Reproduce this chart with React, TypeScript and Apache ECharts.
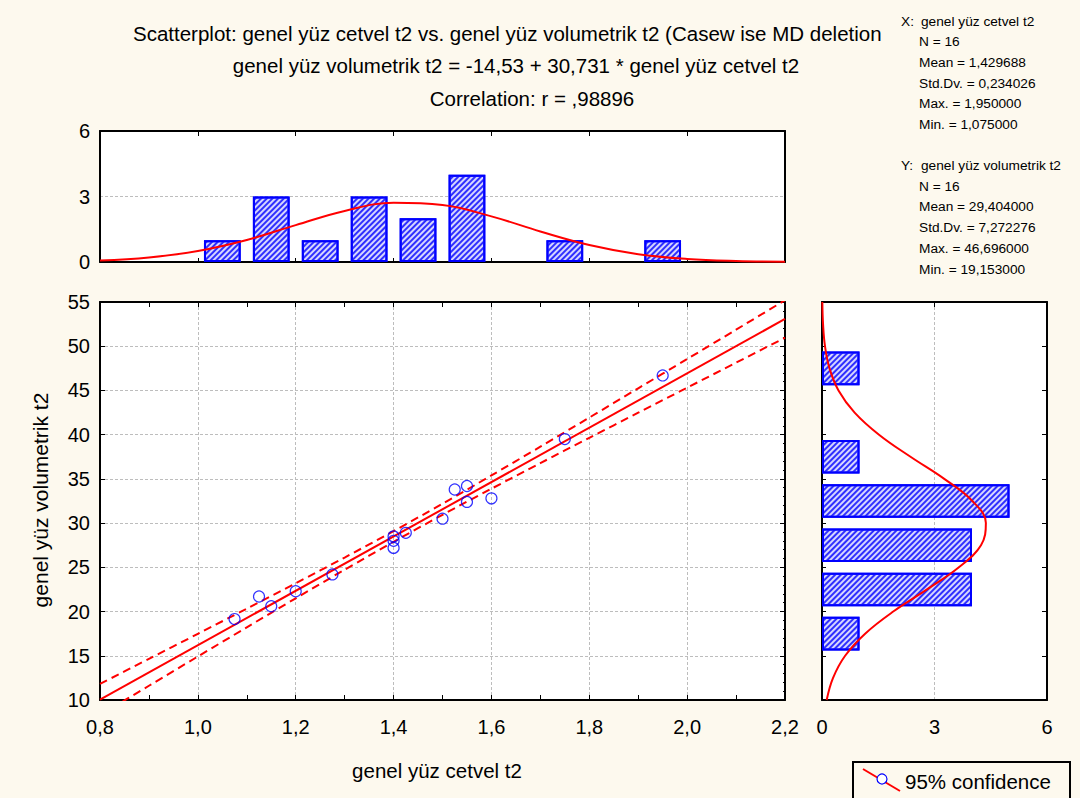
import React, { useEffect, useRef } from 'react';
import * as echarts from 'echarts';

const FONT = '"Liberation Sans", Arial, Helvetica, sans-serif';
const BG = '#fdf9ee';

// ---- data ----
const xValues = [1.075, 1.125, 1.15, 1.2, 1.275, 1.4, 1.4, 1.4, 1.425, 1.5, 1.525, 1.55, 1.55, 1.6, 1.75, 1.95];
const yValues = [19.153, 21.7, 20.6, 22.3, 24.2, 28.5, 28.0, 27.2, 28.9, 30.5, 33.8, 34.2, 32.4, 32.8, 39.5, 46.696];

const topBinLabels = ['0,8-0,9', '0,9-1,0', '1,0-1,1', '1,1-1,2', '1,2-1,3', '1,3-1,4', '1,4-1,5', '1,5-1,6', '1,6-1,7', '1,7-1,8', '1,8-1,9', '1,9-2,0', '2,0-2,1', '2,1-2,2'];
const topBinCounts = [0, 0, 1, 3, 1, 3, 2, 4, 0, 1, 0, 1, 0, 0];

const rightBinLabels = ['10-15', '15-20', '20-25', '25-30', '30-35', '35-40', '40-45', '45-50', '50-55'];
const rightBinCounts = [0, 1, 4, 4, 5, 1, 0, 1, 0];

const topCurveX = [0.8, 0.9, 1.0, 1.1, 1.2, 1.3, 1.4, 1.5, 1.6, 1.7, 1.8, 1.9, 2.0, 2.1, 2.2];
const topCurveY = [0.073, 0.21, 0.505, 1.01, 1.69, 2.34, 2.71, 2.61, 2.09, 1.4, 0.78, 0.36, 0.14, 0.045, 0.012];

const rightCurveY = [10, 12.5, 15, 17.5, 20, 22.5, 25, 27.5, 30, 32.5, 35, 37.5, 40, 42.5, 45, 47.5, 50, 52.5, 55];
const rightCurveX = [0.125, 0.295, 0.617, 1.15, 1.9, 2.8, 3.65, 4.24, 4.37, 4.01, 3.26, 2.36, 1.52, 0.87, 0.44, 0.2, 0.08, 0.028, 0.009];

const fitX = [0.8, 2.2];
const fitY = [10.05, 53.08];

const bandX = [0.8, 0.9, 1.0, 1.1, 1.2, 1.3, 1.4, 1.5, 1.6, 1.7, 1.8, 1.9, 2.0, 2.1, 2.2];
const bandUpper = [11.82, 14.65, 17.48, 20.33, 23.2, 26.11, 29.1, 32.19, 35.39, 38.64, 41.93, 45.24, 48.55, 51.87, 55.2];
const bandLower = [8.29, 11.61, 14.92, 18.22, 21.5, 24.73, 27.89, 30.94, 33.89, 36.78, 39.64, 42.48, 45.31, 48.14, 50.96];

const titleLines = [
  'Scatterplot: genel yüz cetvel t2 vs. genel yüz volumetrik t2 (Casew ise MD deletion',
  'genel yüz volumetrik t2 = -14,53 + 30,731 * genel yüz cetvel t2',
  'Correlation: r = ,98896',
];
const statsXHead = ['X:', 'genel yüz cetvel t2'];
const statsXLines = ['N = 16', 'Mean = 1,429688', 'Std.Dv. = 0,234026', 'Max. = 1,950000', 'Min. = 1,075000'];
const statsYHead = ['Y:', 'genel yüz volumetrik t2'];
const statsYLines = ['N = 16', 'Mean = 29,404000', 'Std.Dv. = 7,272276', 'Max. = 46,696000', 'Min. = 19,153000'];
const xAxisTitle = 'genel yüz cetvel t2';
const yAxisTitle = 'genel yüz volumetrik t2';
const legendText = '95% confidence';

// ---- styles ----
const axisLineStyle = { show: true, onZero: false, lineStyle: { color: '#000', width: 2 } };
const gridLineStyle = { show: true, lineStyle: { color: '#bdbdbd', width: 1, type: [3, 2] as any } };
const tickLabel = { color: '#000', fontSize: 20, fontFamily: FONT };
const commaFmt = (v: number) => v.toFixed(1).replace('.', ',');

const barItemStyle = {
  color: '#d6d6ff',
  borderColor: '#0000ff',
  borderWidth: 2,
  decal: {
    symbol: 'rect',
    symbolSize: 1,
    color: '#2f2fff',
    dashArrayX: [1, 0],
    dashArrayY: [2, 2],
    rotation: -Math.PI / 4,
  },
};

function txt(x: number, y: number, text: string, size: number, align = 'left', rotation = 0) {
  return {
    type: 'text',
    x,
    y,
    rotation,
    silent: true,
    style: {
      text,
      font: `${size}px ${FONT}`,
      fill: '#000',
      textAlign: align,
      textVerticalAlign: 'middle',
      align,
      verticalAlign: 'middle',
    },
  };
}

function buildGraphics() {
  const g: any[] = [];
  g.push(txt(133, 33, titleLines[0], 20.5));
  g.push(txt(516, 65, titleLines[1], 20.5, 'center'));
  g.push(txt(532, 98, titleLines[2], 20.5, 'center'));
  const step = 20.7;
  const fs = 13.7;
  g.push(txt(901, 21, statsXHead[0], fs));
  g.push(txt(921, 21, statsXHead[1], fs));
  statsXLines.forEach((t, i) => g.push(txt(919, 21 + step * (i + 1), t, fs)));
  g.push(txt(901, 165.5, statsYHead[0], fs));
  g.push(txt(921, 165.5, statsYHead[1], fs));
  statsYLines.forEach((t, i) => g.push(txt(919, 165.5 + step * (i + 1), t, fs)));
  g.push(txt(437, 770, xAxisTitle, 20.5, 'center'));
  g.push(txt(40, 500, yAxisTitle, 21, 'center', Math.PI / 2));
  // legend box
  g.push({ type: 'rect', shape: { x: 853, y: 762, width: 217, height: 44 }, style: { fill: BG, stroke: '#000', lineWidth: 2 }, silent: true });
  g.push({ type: 'line', shape: { x1: 863, y1: 769, x2: 900, y2: 791 }, style: { stroke: '#ff0000', lineWidth: 2 }, silent: true });
  g.push({ type: 'circle', shape: { cx: 882, cy: 779, r: 5 }, style: { fill: '#fff', stroke: '#0000ff', lineWidth: 1.2 }, silent: true, z: 10 });
  g.push(txt(905, 781, legendText, 20.5));
  return g;
}

const option: any = {
  animation: false,
  backgroundColor: BG,
  aria: { enabled: true, decal: { show: true } },
  graphic: buildGraphics(),
  grid: [
    { left: 100, top: 131, width: 685, height: 131, show: true, backgroundColor: '#fff', borderWidth: 0, containLabel: false },
    { left: 100, top: 302, width: 685, height: 398, show: true, backgroundColor: '#fff', borderWidth: 0, containLabel: false },
    { left: 822, top: 302, width: 225, height: 398, show: true, backgroundColor: '#fff', borderWidth: 0, containLabel: false },
  ],
  xAxis: [
    {
      type: 'category', gridIndex: 0, data: topBinLabels, position: 'bottom',
      axisLine: axisLineStyle, axisLabel: { show: false },
      axisTick: { show: true, inside: true, length: 4, interval: 1, lineStyle: { color: '#000' } },
      splitLine: { show: false },
    },
    {
      type: 'value', gridIndex: 0, min: 0.8, max: 2.2, interval: 0.2, position: 'top',
      axisLine: axisLineStyle, axisLabel: { show: false },
      axisTick: { show: true, inside: true, length: 5, lineStyle: { color: '#000' } },
      splitLine: { show: false },
    },
    {
      type: 'value', gridIndex: 1, min: 0.8, max: 2.2, interval: 0.2, position: 'bottom',
      axisLine: axisLineStyle,
      axisLabel: { ...tickLabel, margin: 17, formatter: commaFmt },
      axisTick: { show: true, inside: true, length: 5, lineStyle: { color: '#000' } },
      minorTick: { show: true, splitNumber: 2, length: 5, lineStyle: { color: '#000' } },
      splitLine: gridLineStyle,
    },
    {
      type: 'value', gridIndex: 1, min: 0.8, max: 2.2, interval: 0.1, position: 'top',
      axisLine: axisLineStyle, axisLabel: { show: false },
      axisTick: { show: true, inside: true, length: 5, lineStyle: { color: '#000' } },
      splitLine: { show: false },
    },
    {
      type: 'value', gridIndex: 2, min: 0, max: 6, interval: 3, position: 'bottom',
      axisLine: axisLineStyle,
      axisLabel: { ...tickLabel, margin: 17 },
      axisTick: { show: false },
      splitLine: gridLineStyle,
    },
    {
      type: 'value', gridIndex: 2, min: 0, max: 6, interval: 3, position: 'top',
      axisLine: axisLineStyle, axisLabel: { show: false },
      axisTick: { show: true, inside: true, length: 5, lineStyle: { color: '#000' } },
      splitLine: { show: false },
    },
  ],
  yAxis: [
    {
      type: 'value', gridIndex: 0, min: 0, max: 6, interval: 3, position: 'left',
      axisLine: axisLineStyle,
      axisLabel: { ...tickLabel, margin: 10 },
      axisTick: { show: false },
      splitLine: gridLineStyle,
    },
    {
      type: 'value', gridIndex: 0, min: 0, max: 6, interval: 3, position: 'right',
      axisLine: axisLineStyle, axisLabel: { show: false }, axisTick: { show: false }, splitLine: { show: false },
    },
    {
      type: 'value', gridIndex: 1, min: 10, max: 55, interval: 5, position: 'left',
      axisLine: axisLineStyle,
      axisLabel: { ...tickLabel, margin: 10 },
      axisTick: { show: true, inside: true, length: 5, lineStyle: { color: '#000' } },
      splitLine: gridLineStyle,
    },
    {
      type: 'value', gridIndex: 1, min: 10, max: 55, interval: 5, position: 'right',
      axisLine: axisLineStyle, axisLabel: { show: false },
      axisTick: { show: true, inside: true, length: 5, lineStyle: { color: '#000' } },
      minorTick: { show: true, splitNumber: 5, length: 2, lineStyle: { color: '#000' } },
      splitLine: { show: false },
    },
    {
      type: 'category', gridIndex: 2, data: rightBinLabels, position: 'left',
      axisLine: axisLineStyle, axisLabel: { show: false },
      axisTick: { show: true, inside: true, length: 4, interval: 0, lineStyle: { color: '#000' } },
      splitLine: { show: false },
    },
    {
      type: 'value', gridIndex: 2, min: 10, max: 55, interval: 5, position: 'right',
      axisLine: axisLineStyle, axisLabel: { show: false },
      axisTick: { show: true, inside: true, length: 5, lineStyle: { color: '#000' } },
      splitLine: { show: false },
    },
  ],
  series: [
    {
      type: 'bar', xAxisIndex: 0, yAxisIndex: 0, barWidth: '75%',
      data: topBinCounts.map((c) => (c === 0 ? '-' : c)),
      itemStyle: barItemStyle, silent: true,
    },
    {
      type: 'line', xAxisIndex: 1, yAxisIndex: 0, smooth: 0.4, showSymbol: false, symbol: 'none',
      data: topCurveX.map((x, i) => [x, topCurveY[i]]),
      lineStyle: { color: '#ff0000', width: 2 }, z: 4, silent: true,
    },
    {
      type: 'line', xAxisIndex: 2, yAxisIndex: 2, showSymbol: false, symbol: 'none',
      data: fitX.map((x, i) => [x, fitY[i]]),
      lineStyle: { color: '#ff0000', width: 2 }, z: 3, silent: true,
    },
    {
      type: 'line', xAxisIndex: 2, yAxisIndex: 2, smooth: 0.3, showSymbol: false, symbol: 'none',
      data: bandX.map((x, i) => [x, bandUpper[i]]),
      lineStyle: { color: '#ff0000', width: 2, type: [8, 5] }, z: 3, silent: true,
    },
    {
      type: 'line', xAxisIndex: 2, yAxisIndex: 2, smooth: 0.3, showSymbol: false, symbol: 'none',
      data: bandX.map((x, i) => [x, bandLower[i]]),
      lineStyle: { color: '#ff0000', width: 2, type: [8, 5] }, z: 3, silent: true,
    },
    {
      type: 'scatter', xAxisIndex: 2, yAxisIndex: 2, symbol: 'circle', symbolSize: 11,
      data: xValues.map((x, i) => [x, yValues[i]]),
      itemStyle: { color: 'rgba(255,255,255,0)', borderColor: '#0000ff', borderWidth: 1.2 }, z: 5, silent: true,
    },
    {
      type: 'bar', xAxisIndex: 4, yAxisIndex: 4, barWidth: '76%',
      data: rightBinCounts.map((c) => (c === 0 ? '-' : c)),
      itemStyle: barItemStyle, silent: true,
    },
    {
      type: 'line', xAxisIndex: 4, yAxisIndex: 5, smooth: 0.4, showSymbol: false, symbol: 'none',
      data: rightCurveY.map((y, i) => [rightCurveX[i], y]),
      lineStyle: { color: '#ff0000', width: 2 }, z: 4, silent: true,
    },
  ],
};

export default function App() {
  const ref = useRef<HTMLDivElement>(null);
  useEffect(() => {
    document.body.style.margin = '0';
    document.body.style.background = BG;
    const chart = echarts.init(ref.current!, undefined, { renderer: 'svg' });
    chart.setOption(option);
    return () => chart.dispose();
  }, []);
  return <div ref={ref} style={{ width: 1080, height: 798, background: BG }} />;
}
